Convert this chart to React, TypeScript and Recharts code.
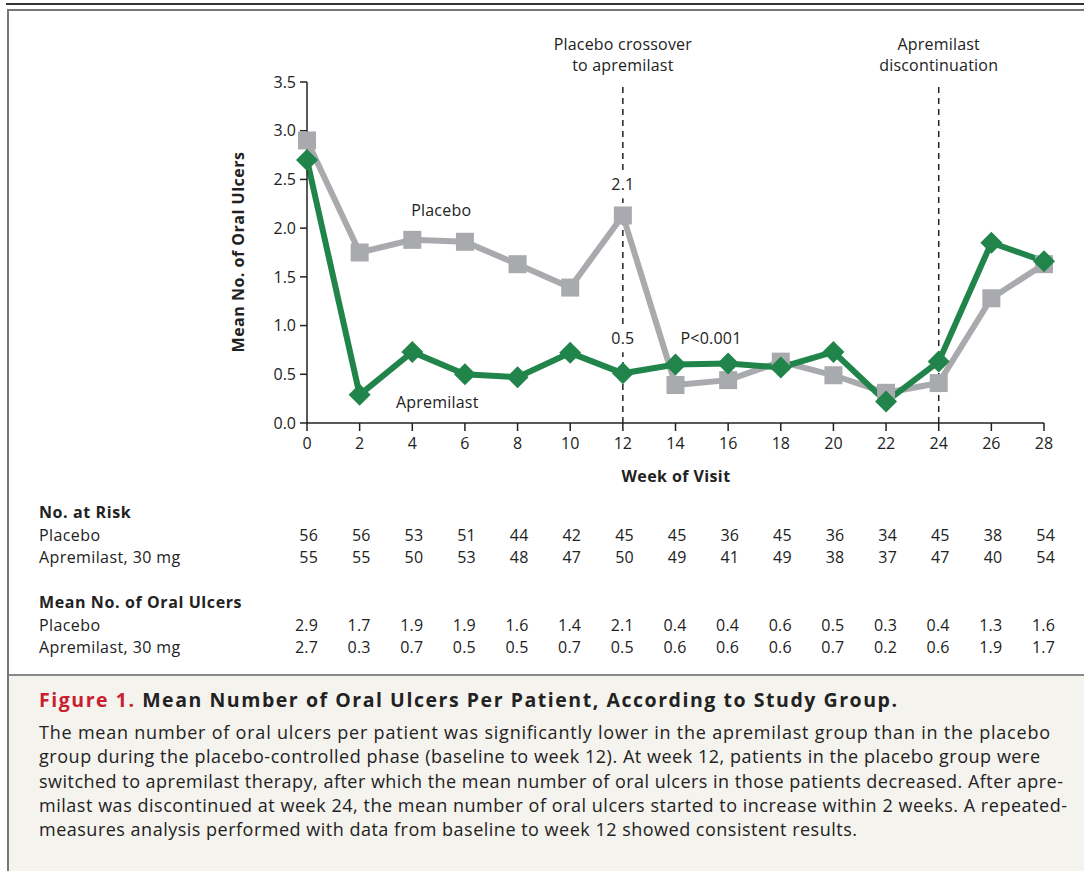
import React from 'react';
import {
  LineChart, Line, XAxis, YAxis, ReferenceLine, ReferenceDot,
} from 'recharts';

const weeks = [0, 2, 4, 6, 8, 10, 12, 14, 16, 18, 20, 22, 24, 26, 28];
const placeboMean = [2.9, 1.75, 1.88, 1.86, 1.63, 1.39, 2.13, 0.39, 0.44, 0.63, 0.49, 0.31, 0.41, 1.28, 1.63];
const apremilastMean = [2.7, 0.29, 0.73, 0.5, 0.47, 0.72, 0.51, 0.6, 0.61, 0.57, 0.73, 0.22, 0.63, 1.85, 1.66];
const yTicks = [0, 0.5, 1, 1.5, 2, 2.5, 3, 3.5];

const riskPlacebo = ['56', '56', '53', '51', '44', '42', '45', '45', '36', '45', '36', '34', '45', '38', '54'];
const riskApremilast = ['55', '55', '50', '53', '48', '47', '50', '49', '41', '49', '38', '37', '47', '40', '54'];
const tablePlacebo = ['2.9', '1.7', '1.9', '1.9', '1.6', '1.4', '2.1', '0.4', '0.4', '0.6', '0.5', '0.3', '0.4', '1.3', '1.6'];
const tableApremilast = ['2.7', '0.3', '0.7', '0.5', '0.5', '0.7', '0.5', '0.6', '0.6', '0.6', '0.7', '0.2', '0.6', '1.9', '1.7'];

const captionLines = [
  'The mean number of oral ulcers per patient was significantly lower in the apremilast group than in the placebo',
  'group during the placebo-controlled phase (baseline to week 12). At week 12, patients in the placebo group were',
  'switched to apremilast therapy, after which the mean number of oral ulcers in those patients decreased. After apre-',
  'milast was discontinued at week 24, the mean number of oral ulcers started to increase within 2 weeks. A repeated-',
  'measures analysis performed with data from baseline to week 12 showed consistent results.',
];
// rendered widths of the caption lines in the reference (px)
const captionWidths = [1011, 1001, 1024, 1028, 818];

const data = weeks.map((w, i) => ({ week: w, placebo: placeboMean[i], apremilast: apremilastMean[i] }));

const FONT = '"Open Sans", "Noto Sans", sans-serif';
const GREEN = '#21854b';
const GRAY = '#a8aaad';
const INK = '#222';

// plot area (px) – shared by chart margins and the table below it
const X0 = 307;
const X1 = 1044;
const colX = (w: number) => X0 + (w * (X1 - X0)) / 28;

const SquareDot = (props: any) => {
  const { cx, cy } = props;
  if (cx == null || cy == null) return null;
  return <rect x={cx - 9} y={cy - 9} width={18} height={18} fill={GRAY} />;
};

const DiamondDot = (props: any) => {
  const { cx, cy } = props;
  if (cx == null || cy == null) return null;
  const r = 11;
  return <polygon points={`${cx},${cy - r} ${cx + r},${cy} ${cx},${cy + r} ${cx - r},${cy}`} fill={GREEN} />;
};

const topLabel = (lines: string[]) => (props: any) => {
  const { viewBox } = props;
  const x = viewBox.x;
  const y = viewBox.y;
  return (
    <g>
      <text x={x} y={y - 32} textAnchor="middle" fontSize={16} letterSpacing={0.2} fill={INK} fontFamily={FONT}>{lines[0]}</text>
      <text x={x} y={y - 11} textAnchor="middle" fontSize={16} letterSpacing={0.2} fill={INK} fontFamily={FONT}>{lines[1]}</text>
    </g>
  );
};

// annotation text; optional white box hides the dashed line behind it
const note = (value: string, boxed = false) => (props: any) => {
  const { viewBox } = props;
  const cx = viewBox.x + (viewBox.width || 0) / 2;
  const cy = viewBox.y + (viewBox.height || 0) / 2;
  return (
    <g>
      {boxed && <rect x={cx - 16} y={cy - 13} width={32} height={27} fill="#fff" />}
      <text x={cx} y={cy} dy="0.35em" textAnchor="middle" fontSize={16} letterSpacing={0.2} fill={INK} fontFamily={FONT}>{value}</text>
    </g>
  );
};

export default function App() {
  const rowLabel = { fontSize: 16, fill: INK, fontFamily: FONT, letterSpacing: 0.4 } as const;
  const numCell = (vals: string[], y: number) =>
    vals.map((v, i) => (
      <text key={i} x={colX(weeks[i]) + 11} y={y} textAnchor="end" {...rowLabel} letterSpacing={0.2}>{v}</text>
    ));

  return (
    <div style={{ position: 'absolute', left: 0, top: 0, width: 1084, height: 871, overflow: 'hidden', background: '#fff', fontFamily: FONT }}>
      <div style={{ position: 'absolute', left: 6, top: 3, width: 1100, height: 2, background: '#333' }} />
      <div style={{ position: 'absolute', left: 7, top: 9, width: 1100, height: 859, border: '2px solid #777' }} />
      <div style={{ position: 'absolute', left: 9, top: 674, width: 1100, height: 195, background: '#f5f3ee', borderTop: '2px solid #888' }} />

      <div style={{ position: 'absolute', left: 0, top: 0 }}>
        <LineChart width={1084} height={500} data={data} margin={{ top: 82, right: 40, bottom: 47, left: 247 }}>
          <XAxis
            dataKey="week"
            type="number"
            domain={[0, 28]}
            ticks={weeks}
            interval={0}
            axisLine={{ stroke: INK, strokeWidth: 1.5 }}
            tickLine={{ stroke: INK, strokeWidth: 1.5 }}
            tickSize={8}
            tickMargin={7}
            height={30}
            tick={{ fontSize: 16, fill: INK, fontFamily: FONT }}
          />
          <YAxis
            type="number"
            domain={[0, 3.5]}
            ticks={yTicks}
            interval={0}
            width={60}
            axisLine={{ stroke: INK, strokeWidth: 1.5 }}
            tickLine={{ stroke: INK, strokeWidth: 1.5 }}
            tickSize={7}
            tickMargin={4}
            tickFormatter={(v: number) => v.toFixed(1)}
            tick={{ fontSize: 16, fill: INK, fontFamily: FONT }}
          />
          <ReferenceLine x={12} stroke={INK} strokeWidth={1.5} strokeDasharray="6 5" label={topLabel(['Placebo crossover', 'to apremilast'])} />
          <ReferenceLine x={24} stroke={INK} strokeWidth={1.5} strokeDasharray="6 5" label={topLabel(['Apremilast', 'discontinuation'])} />
          <Line dataKey="placebo" stroke={GRAY} strokeWidth={6} dot={<SquareDot />} activeDot={false} isAnimationActive={false} strokeLinejoin="miter" />
          <Line dataKey="apremilast" stroke={GREEN} strokeWidth={6} dot={<DiamondDot />} activeDot={false} isAnimationActive={false} strokeLinejoin="miter" />
          <ReferenceDot x={12} y={2.45} r={0} fill="none" stroke="none" label={note('2.1', true)} />
          <ReferenceDot x={12} y={0.87} r={0} fill="none" stroke="none" label={note('0.5', true)} />
          <ReferenceDot x={15.35} y={0.87} r={0} fill="none" stroke="none" label={note('P<0.001')} />
          <ReferenceDot x={5.1} y={2.18} r={0} fill="none" stroke="none" label={note('Placebo')} />
          <ReferenceDot x={4.95} y={0.215} r={0} fill="none" stroke="none" label={note('Apremilast')} />
        </LineChart>
      </div>

      <svg width={1084} height={871} style={{ position: 'absolute', left: 0, top: 0, pointerEvents: 'none' }}>
        <text x={238} y={252} transform="rotate(-90 238 252)" textAnchor="middle" dominantBaseline="central" fontSize={16} fontWeight="bold" letterSpacing={0.5} fill={INK} fontFamily={FONT}>
          Mean No. of Oral Ulcers
        </text>
        <text x={676} y={482} textAnchor="middle" fontSize={16} fontWeight="bold" letterSpacing={0.4} fill={INK} fontFamily={FONT}>Week of Visit</text>

        <text x={39} y={518} fontWeight="bold" {...rowLabel} letterSpacing={0.6}>No. at Risk</text>
        <text x={39} y={541} {...rowLabel}>Placebo</text>
        <text x={39} y={563} {...rowLabel}>Apremilast, 30 mg</text>
        {numCell(riskPlacebo, 541)}
        {numCell(riskApremilast, 563)}

        <text x={39} y={608} fontWeight="bold" {...rowLabel} letterSpacing={0.6}>Mean No. of Oral Ulcers</text>
        <text x={39} y={631} {...rowLabel}>Placebo</text>
        <text x={39} y={653} {...rowLabel}>Apremilast, 30 mg</text>
        {numCell(tablePlacebo, 631)}
        {numCell(tableApremilast, 653)}

        <text x={39} y={707} fontSize={19.5} fontWeight="bold" fill={INK} fontFamily={FONT} textLength={858} lengthAdjust="spacing">
          <tspan fill="#c8202f">Figure 1.</tspan> Mean Number of Oral Ulcers Per Patient, According to Study Group.
        </text>
        {captionLines.map((l, i) => (
          <text key={i} x={39} y={739 + i * 24.3} fontSize={18} fill={INK} fontFamily={FONT} textLength={captionWidths[i]} lengthAdjust="spacing">{l}</text>
        ))}
      </svg>
    </div>
  );
}
